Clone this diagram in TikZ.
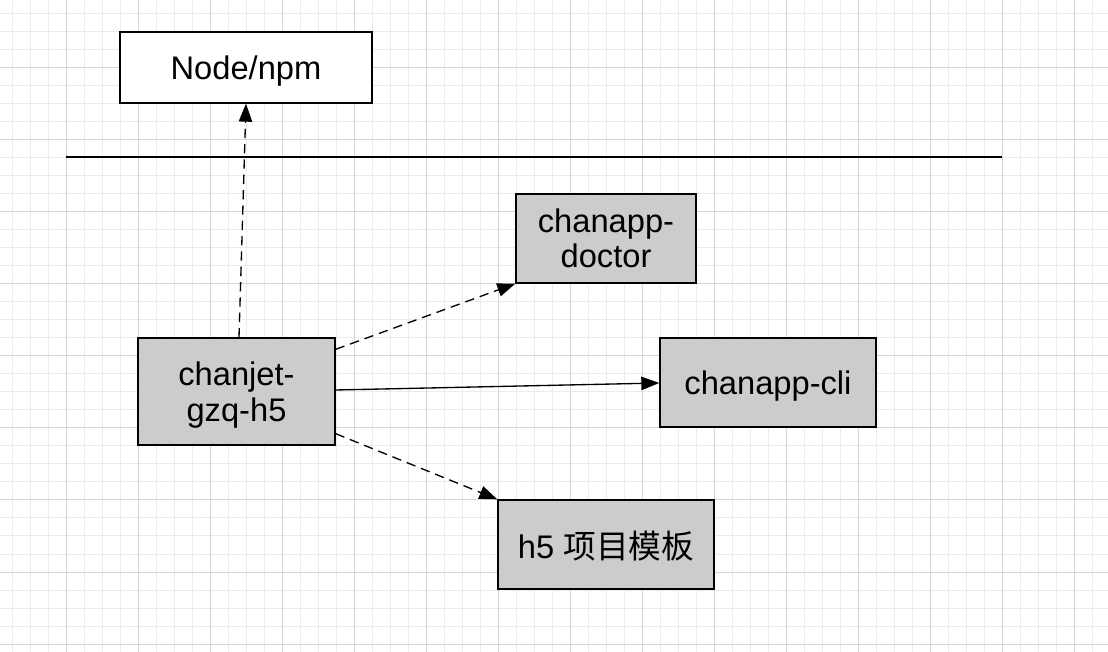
\documentclass[tikz,border=0pt]{standalone}
\usepackage{fontspec}
\setmainfont{Liberation Sans}
\newfontfamily\cjk{Noto Sans CJK SC}
\usetikzlibrary{arrows.meta,calc}
\definecolor{gridminor}{HTML}{EBEBEB}
\definecolor{gridmajor}{HTML}{D6D6D6}
\definecolor{boxgray}{HTML}{CCCCCC}
\tikzset{
  box/.style={draw=black, line width=1pt, inner sep=0pt, align=center,
    text depth=0pt, font=\fontsize{24.5}{26.5}\selectfont},
  graybox/.style={box, fill=boxgray},
  whitebox/.style={box, fill=white},
  conn/.style={line width=1pt, -{Triangle[length=13.5pt,width=10pt]}},
  dashconn/.style={conn, dash pattern=on 7pt off 4.5pt},
}
\begin{document}
\begin{tikzpicture}[x=0.75pt,y=-0.75pt]
\useasboundingbox (0,0) rectangle (1108,652);
\fill[white] (0,0) rectangle (1108,652);
% minor grid
\foreach \i in {0,...,61} { \draw[gridminor, line width=0.75pt] (12.7+18*\i,0) -- (12.7+18*\i,652); }
\foreach \j in {0,...,36} { \draw[gridminor, line width=0.75pt] (0,14+18*\j) -- (1108,14+18*\j); }
% major grid
\foreach \i in {0,...,15} { \draw[gridmajor, line width=0.75pt] (66.7+72*\i,0) -- (66.7+72*\i,652); }
\foreach \j in {0,...,8} { \draw[gridmajor, line width=0.75pt] (0,68+72*\j) -- (1108,68+72*\j); }

% separator line
\coordinate (la) at (66,157);
\coordinate (lb) at (1002,157);
\draw[line width=1pt] (la) -- (lb);

\node[whitebox, minimum width=252*0.75pt, minimum height=71*0.75pt] (npm) at (246,67.5) {Node/npm};
\node[graybox, minimum width=180*0.75pt, minimum height=89*0.75pt] (doc) at (606,238.5) {chanapp-\\doctor};
\node[graybox, minimum width=197*0.75pt, minimum height=107*0.75pt] (gzq) at (236.5,391.5) {chanjet-\\gzq-h5};
\node[graybox, minimum width=216*0.75pt, minimum height=89*0.75pt] (cli) at (768,382.5) {chanapp-cli};
\node[graybox, minimum width=216*0.75pt, minimum height=89*0.75pt] (h5) at (606,544.5) {h5 {\cjk 项目模板}};

\draw[dashconn] ($(gzq.north)+(2.5,0)$) -- (npm.south);
\draw[dashconn] ($(gzq.north east)+(0,12)$) -- (doc.south west);
\draw[conn] ($(gzq.east)+(0,-1.5)$) -- ($(cli.west)+(0,0.5)$);
\draw[dashconn] ($(gzq.south east)+(0,-12)$) -- (h5.north west);
\end{tikzpicture}
\end{document}
